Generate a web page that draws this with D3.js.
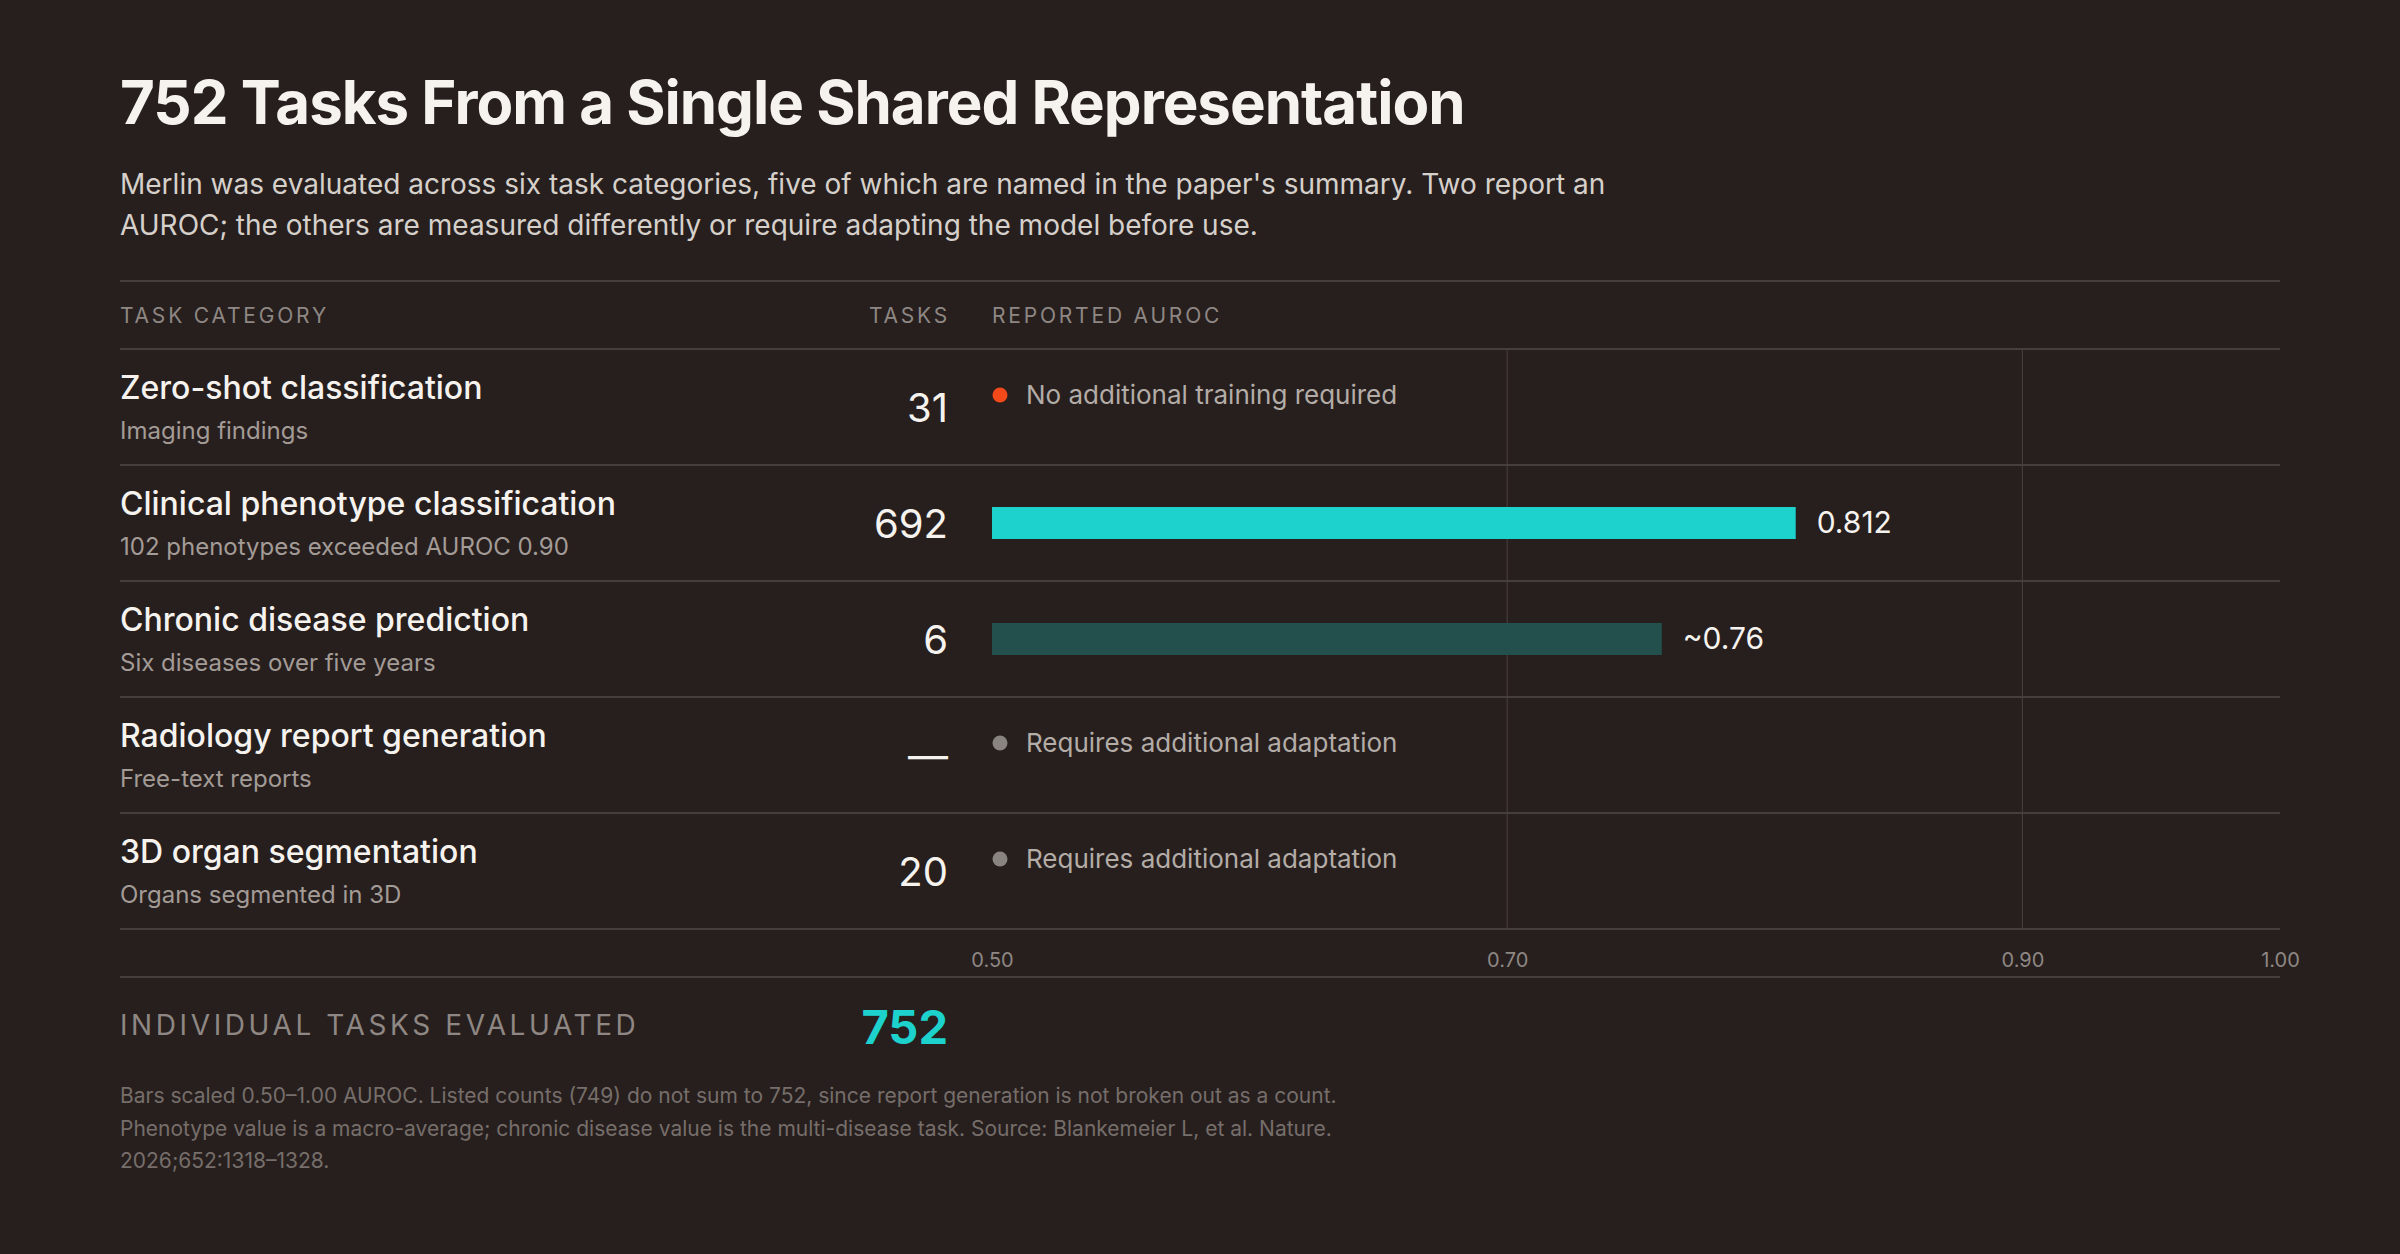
<!DOCTYPE html>
<html>
<head>
<meta charset="utf-8">
<script src="https://cdn.jsdelivr.net/npm/d3@7"></script>
<style>
  html, body { margin: 0; padding: 0; background: #271f1e; }
  svg { display: block; font-family: Inter, "Noto Sans", sans-serif; }
</style>
</head>
<body>
<div id="chart"></div>
<script>
// ---- data ----
var categories = ["Zero-shot classification", "Clinical phenotype classification", "Chronic disease prediction", "Radiology report generation", "3D organ segmentation"];
var descriptions = ["Imaging findings", "102 phenotypes exceeded AUROC 0.90", "Six diseases over five years", "Free-text reports", "Organs segmented in 3D"];
var taskCounts = [31, 692, 6, null, 20];
var aurocValues = [null, 0.812, 0.76, null, null];
var aurocLabels = [null, "0.812", "~0.76", null, null];
var barKinds = [null, "main", "muted", null, null];
var statusNotes = ["No additional training required", null, null, "Requires additional adaptation", "Requires additional adaptation"];
var statusKinds = ["zero", null, null, "adapt", "adapt"];
var axisTicks = [0.50, 0.70, 0.90, 1.00];
var gridTicks = [0.70, 0.90];
var totalTasks = 752;

var titleText = "752 Tasks From a Single Shared Representation";
var subtitleLines = [
  "Merlin was evaluated across six task categories, five of which are named in the paper's summary. Two report an",
  "AUROC; the others are measured differently or require adapting the model before use."
];
var footnoteLines = [
  "Bars scaled 0.50\u20131.00 AUROC. Listed counts (749) do not sum to 752, since report generation is not broken out as a count.",
  "Phenotype value is a macro-average; chronic disease value is the multi-disease task. Source: Blankemeier L, et al. Nature.",
  "2026;652:1318\u20131328."
];

var rows = categories.map(function(c, i) {
  return { name: c, desc: descriptions[i], count: taskCounts[i], value: aurocValues[i],
           label: aurocLabels[i], bar: barKinds[i], note: statusNotes[i], kind: statusKinds[i] };
});

// ---- layout ----
var width = 2400, height = 1254;
var left = 120, right = 2280, tasksRight = 948;
var colors = {
  bg: "#271f1e", rule: "#463e3c", grid: "#433b39", title: "#f6f3ef", sub: "#d6d0cb",
  desc: "#a39b96", head: "#8e8783", main: "#1dd1cc", muted: "#234f4c",
  zero: "#f2491a", adapt: "#8a8480", note: "#b3aca7", foot: "#766e6a"
};

var svg = d3.select("#chart").append("svg")
  .attr("width", width)
  .attr("height", height);

svg.append("rect").attr("width", width).attr("height", height).attr("fill", colors.bg);

/** Title and subtitle */
svg.append("text")
  .attr("x", left).attr("y", 124)
  .attr("fill", colors.title)
  .style("font-size", "60px").style("font-weight", 700).style("letter-spacing", "-1px")
  .text(titleText);

svg.selectAll(".subtitle")
  .data(subtitleLines)
  .enter().append("text")
    .attr("class", "subtitle")
    .attr("x", left)
    .attr("y", function(d, i) { return 194 + i * 41; })
    .attr("fill", colors.sub)
    .style("font-size", "28px")
    .text(function(d) { return d; });

/** Scales */
var x = d3.scaleLinear().domain([0.5, 1.0]).range([992, right]);
var y = d3.scaleBand().domain(categories).range([349, 929]);

/** Header */
var header = svg.append("g").style("font-size", "21px").style("letter-spacing", "2.8px").attr("fill", colors.head);
header.append("text").attr("x", left).attr("y", 323).text("TASK CATEGORY");
header.append("text").attr("x", tasksRight + 2).attr("y", 323).attr("text-anchor", "end").text("TASKS");
header.append("text").attr("x", x(0.5)).attr("y", 323).text("REPORTED AUROC");

/** Vertical gridlines */
svg.selectAll(".grid")
  .data(gridTicks)
  .enter().append("line")
    .attr("class", "grid")
    .attr("x1", function(d) { return x(d); })
    .attr("x2", function(d) { return x(d); })
    .attr("y1", y.range()[0])
    .attr("y2", y.range()[1])
    .attr("stroke", colors.grid)
    .attr("stroke-width", 1.2);

/** Horizontal rules */
var ruleYs = [281, 977].concat(categories.map(function(c) { return y(c); })).concat([y.range()[1]]);
svg.selectAll(".rule")
  .data(ruleYs)
  .enter().append("line")
    .attr("class", "rule")
    .attr("x1", left).attr("x2", right)
    .attr("y1", function(d) { return d; })
    .attr("y2", function(d) { return d; })
    .attr("stroke", colors.rule)
    .attr("stroke-width", 2);

/** Rows */
var row = svg.selectAll(".row")
  .data(rows)
  .enter().append("g")
    .attr("class", "row")
    .attr("transform", function(d) { return "translate(0," + y(d.name) + ")"; });

row.append("text")
  .attr("x", left).attr("y", 50)
  .attr("fill", colors.title)
  .style("font-size", "32px").style("font-weight", 500)
  .text(function(d) { return d.name; });

row.append("text")
  .attr("x", left).attr("y", 90)
  .attr("fill", colors.desc)
  .style("font-size", "24px")
  .text(function(d) { return d.desc; });

row.append("text")
  .attr("x", tasksRight).attr("y", 73)
  .attr("text-anchor", "end")
  .attr("fill", colors.title)
  .style("font-size", "40px").style("font-weight", 400)
  .text(function(d) { return d.count == null ? "\u2014" : d.count; });

/** Bars */
var barH = 32;
var withBar = row.filter(function(d) { return d.value != null; });
withBar.append("rect")
  .attr("x", x(0.5))
  .attr("y", y.bandwidth() / 2 - barH / 2)
  .attr("width", function(d) { return x(d.value) - x(0.5); })
  .attr("height", barH)
  .attr("fill", function(d) { return colors[d.bar]; });
withBar.append("text")
  .attr("x", function(d) { return x(d.value) + 21; })
  .attr("y", y.bandwidth() / 2 + 10)
  .attr("fill", colors.title)
  .style("font-size", "30px")
  .text(function(d) { return d.label; });

/** Status notes */
var withNote = row.filter(function(d) { return d.note != null; });
withNote.append("circle")
  .attr("cx", x(0.5) + 8)
  .attr("cy", 46)
  .attr("r", 7.5)
  .attr("fill", function(d) { return colors[d.kind]; });
withNote.append("text")
  .attr("x", x(0.5) + 34)
  .attr("y", 55)
  .attr("fill", colors.note)
  .style("font-size", "26px")
  .text(function(d) { return d.note; });

/** Axis */
var axis = svg.append("g")
  .attr("transform", "translate(0," + y.range()[1] + ")")
  .call(d3.axisBottom(x).tickValues(axisTicks).tickFormat(d3.format(".2f")).tickSize(0).tickPadding(24));
axis.select(".domain").remove();
axis.selectAll("text")
  .attr("fill", colors.head)
  .style("font-size", "20px")
  .style("font-family", "Inter, sans-serif");

/** Total */
svg.append("text")
  .attr("x", left).attr("y", 1035)
  .attr("fill", colors.head)
  .style("font-size", "28px").style("letter-spacing", "3.6px")
  .text("INDIVIDUAL TASKS EVALUATED");
svg.append("text")
  .attr("x", tasksRight).attr("y", 1044)
  .attr("text-anchor", "end")
  .attr("fill", colors.main)
  .style("font-size", "47px").style("font-weight", 700)
  .text(totalTasks);

/** Footnote */
svg.selectAll(".foot")
  .data(footnoteLines)
  .enter().append("text")
    .attr("class", "foot")
    .attr("x", left)
    .attr("y", function(d, i) { return 1103 + i * 32.5; })
    .attr("fill", colors.foot)
    .style("font-size", "21px")
    .text(function(d) { return d; });
</script>
</body>
</html>
